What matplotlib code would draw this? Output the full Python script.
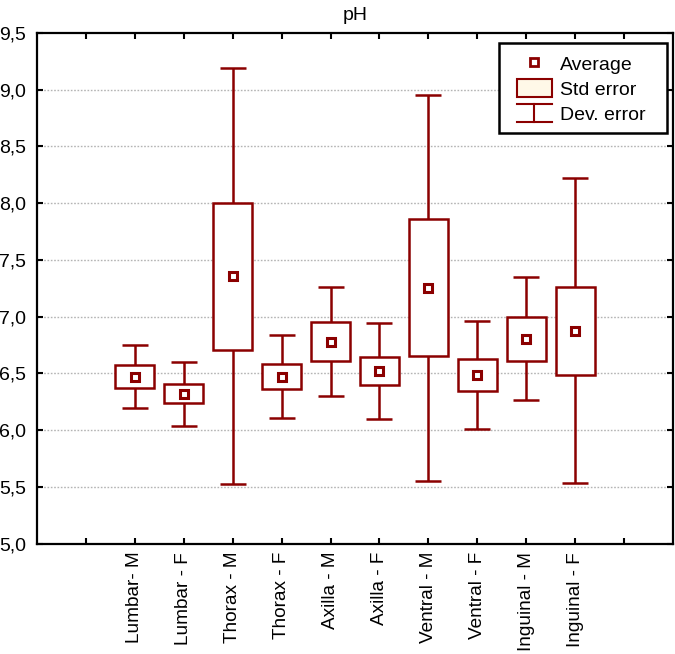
import matplotlib
matplotlib.use("Agg")
import matplotlib.pyplot as plt
from matplotlib.legend_handler import HandlerBase
from matplotlib.lines import Line2D
from matplotlib.patches import Patch, Rectangle

plt.rcParams['font.family'] = ['Liberation Sans', 'DejaVu Sans']

categories = ["Lumbar- M", "Lumbar - F", "Thorax - M", "Thorax - F", "Axilla - M",
              "Axilla - F", "Ventral - M", "Ventral - F", "Inguinal - M", "Inguinal - F"]
means = [6.47, 6.32, 7.355, 6.47, 6.78, 6.52, 7.255, 6.485, 6.805, 6.875]
std_err = [0.10, 0.085, 0.65, 0.11, 0.172, 0.125, 0.603, 0.139, 0.195, 0.388]
std_dev = [0.278, 0.283, 1.833, 0.366, 0.48, 0.424, 1.70, 0.48, 0.54, 1.345]
y_ticks = [5.0, 5.5, 6.0, 6.5, 7.0, 7.5, 8.0, 8.5, 9.0, 9.5]
y_tick_labels = ["5,0", "5,5", "6,0", "6,5", "7,0", "7,5", "8,0", "8,5", "9,0", "9,5"]
x_tick_labels = [""] + categories + [""]
title = "pH"
legend_labels = ["Average", "Std error", "Dev. error"]

RED = "#8B0000"
CREAM = "#FFF8E8"
FS = 14

fig = plt.figure(figsize=(6.75, 6.54), dpi=100)
ax = fig.add_axes([37/675, (654-543.5)/654, 636/675, 510.5/654])

xpos = list(range(1, len(categories) + 1))
bottoms = [m - s for m, s in zip(means, std_err)]
heights = [2 * s for s in std_err]

ax.errorbar(xpos, means, yerr=std_dev, fmt='none', ecolor=RED, elinewidth=1.8,
            capsize=9.5, capthick=1.8, zorder=2)
ax.bar(xpos, heights, bottom=bottoms, width=0.8, facecolor="white",
       edgecolor=RED, linewidth=1.8, zorder=3)
ax.plot(xpos, means, linestyle='none', marker='s', ms=5.5, mew=2.2,
        mec=RED, mfc='white', zorder=4)

ax.set_xlim(-1, 12)
ax.set_ylim(5.0, 9.5)
ax.set_xticks(range(0, 12))
ax.set_xticklabels(x_tick_labels, rotation=90, fontsize=13.7)
ax.set_yticks(y_ticks)
ax.set_yticklabels(y_tick_labels, fontsize=FS)
ax.tick_params(axis='both', direction='in', length=4, width=1.5,
               top=True, right=True, colors='black')
ax.tick_params(axis='x', pad=6)
ax.tick_params(axis='y', pad=8)
for sp in ax.spines.values():
    sp.set_linewidth(1.6)
    sp.set_color('black')

for yv in y_ticks[1:-1]:
    ax.axhline(yv, color='#b4b4b4', linestyle=(0, (1.2, 1.2)), linewidth=1.0, zorder=1)

ax.set_title(title, fontsize=FS, pad=9)


class DevErrorKey:
    pass


class HandlerDevError(HandlerBase):
    def create_artists(self, legend, orig_handle, xdescent, ydescent, width, height,
                       fontsize, trans):
        x0, x1 = -xdescent, -xdescent + width
        y0, y1 = -ydescent, -ydescent + height
        xm = (x0 + x1) / 2
        lines = [
            Line2D([x0, x1], [y1, y1]),
            Line2D([x0, x1], [y0, y0]),
            Line2D([xm, xm], [y0, y1]),
        ]
        for ln in lines:
            ln.set_color(RED)
            ln.set_linewidth(1.5)
            ln.set_transform(trans)
        return lines


avg_handle = Line2D([], [], linestyle='none', marker='s', ms=5.5, mew=2,
                    mec=RED, mfc='white')
se_handle = Patch(facecolor=CREAM, edgecolor=RED, linewidth=1.5)
dev_handle = DevErrorKey()

# legend frame
frame = Rectangle((0.7264, 0.804), 0.264, 0.1763, transform=ax.transAxes,
                  facecolor='white', edgecolor='black', linewidth=1.8, zorder=9)
ax.add_patch(frame)

leg = ax.legend([avg_handle, se_handle, dev_handle], legend_labels,
                handler_map={DevErrorKey: HandlerDevError()},
                loc='upper left', bbox_to_anchor=(0.7547, 0.958), borderaxespad=0,
                fontsize=FS, handlelength=1.8, handleheight=1.05, labelspacing=0.26,
                handletextpad=0.42, borderpad=0.0, frameon=False)
leg.set_zorder(10)

fig.savefig("out.png", dpi=100)
